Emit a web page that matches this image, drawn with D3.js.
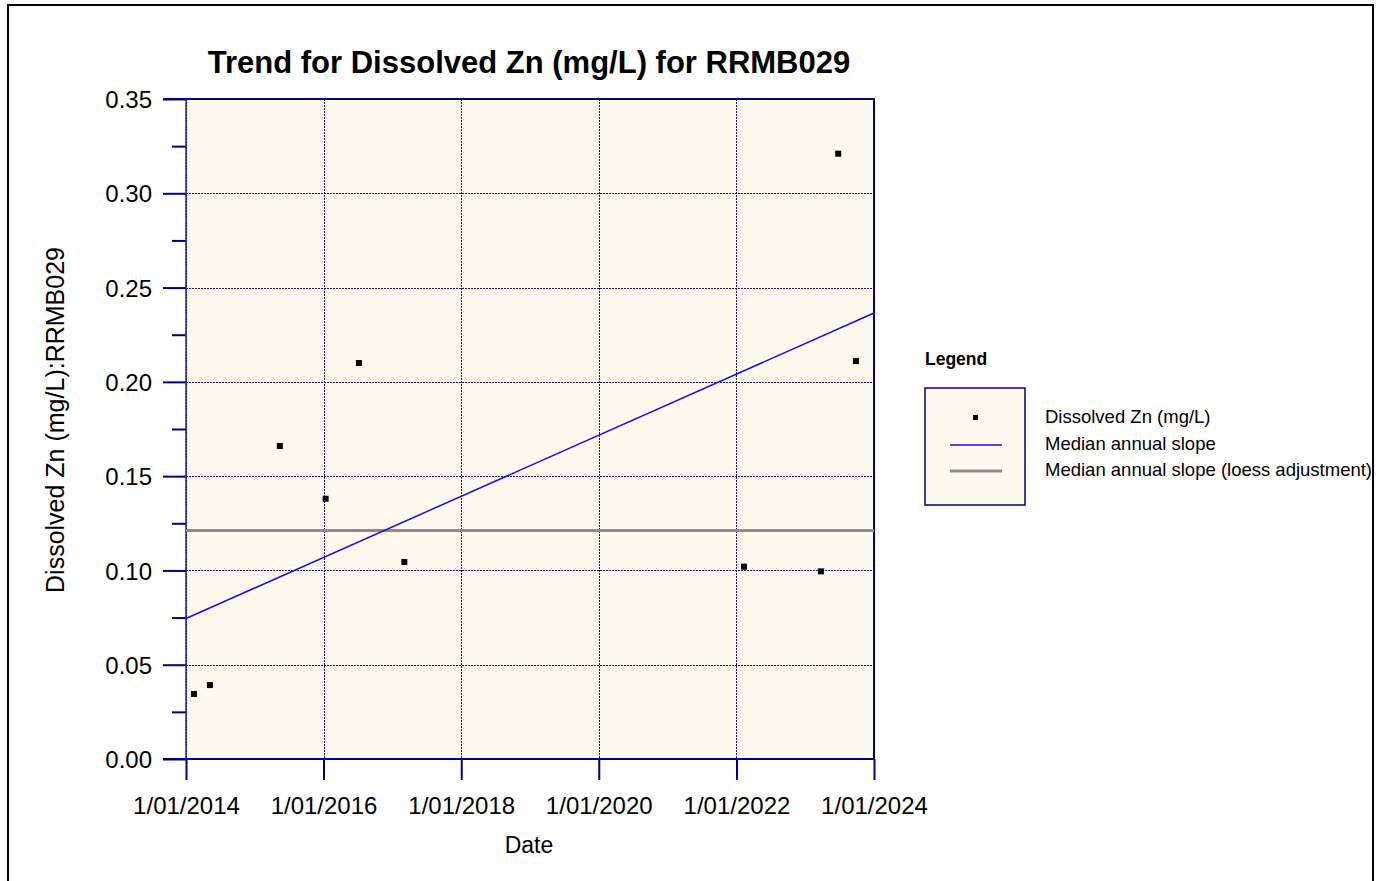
<!DOCTYPE html>
<html>
<head>
<meta charset="utf-8">
<script src="https://cdn.jsdelivr.net/npm/d3@7"></script>
<style>
  body { margin: 0; background: #fff; }
  svg { font-family: "Liberation Sans", Arial, sans-serif; }
</style>
</head>
<body>
<div class="chart"></div>
<script>
// data
var sampleDates = ["2014-02-12", "2014-05-08", "2015-05-14", "2016-01-12", "2016-07-07",
                   "2017-03-05", "2022-02-10", "2023-03-25", "2023-06-25", "2023-09-27"];
var zinc = [0.0345, 0.0392, 0.166, 0.138, 0.210, 0.1045, 0.102, 0.0995, 0.321, 0.211];

// median annual slope line (start / end of date range)
var slopeDates = ["2014-01-01", "2024-01-01"];
var slopeValues = [0.0745, 0.2365];
// loess adjusted slope
var loessValues = [0.1212, 0.1212];

var xTicks = ["2014-01-01", "2016-01-01", "2018-01-01", "2020-01-01", "2022-01-01", "2024-01-01"];
var yTicks = [0, 0.05, 0.10, 0.15, 0.20, 0.25, 0.30, 0.35];
var yMinor = [0.025, 0.075, 0.125, 0.175, 0.225, 0.275, 0.325];

var legendNames = ["Dissolved Zn (mg/L)", "Median annual slope", "Median annual slope (loess adjustment)"];

var width = 1381;
var height = 881;
var plotLeft = 186, plotTop = 99, plotRight = 874, plotBottom = 759;

var navy = "#000080";
var gridColor = "#1414a0";
var cream = "#FDF9EF";
var blue = "#1010F0";
var grey = "#8C8C8C";

var parse = d3.timeParse("%Y-%m-%d");
var fmt = d3.timeFormat("%-d/%m/%Y");

var svg = d3.select(".chart")
            .append("svg")
            .attr("width", width)
            .attr("height", height);

// outer frame
svg.append("rect")
   .attr("x", 8).attr("y", 5)
   .attr("width", 1365).attr("height", 900)
   .attr("fill", "#fff")
   .attr("stroke", "#000")
   .attr("stroke-width", 2);

const xScale = d3.scaleTime()
                 .domain([parse("2014-01-01"), parse("2024-01-01")])
                 .range([plotLeft, plotRight]);
const yScale = d3.scaleLinear()
                 .domain([0, 0.35])
                 .range([plotBottom, plotTop]);

// plot background
svg.append("rect")
   .attr("x", plotLeft).attr("y", plotTop)
   .attr("width", plotRight - plotLeft).attr("height", plotBottom - plotTop)
   .attr("fill", cream);

// grid (dotted)
svg.append("g")
   .selectAll("line")
   .data(yTicks.slice(1))
   .enter()
   .append("line")
   .attr("x1", plotLeft).attr("x2", plotRight)
   .attr("y1", d => Math.round(yScale(d)) + 0.5).attr("y2", d => Math.round(yScale(d)) + 0.5)
   .attr("stroke", gridColor)
   .attr("stroke-width", 1)
   .attr("stroke-dasharray", "2,1")
   .attr("shape-rendering", "crispEdges");
svg.append("g")
   .selectAll("line")
   .data(xTicks)
   .enter()
   .append("line")
   .attr("x1", d => Math.round(xScale(parse(d))) + 0.5).attr("x2", d => Math.round(xScale(parse(d))) + 0.5)
   .attr("y1", plotTop).attr("y2", plotBottom)
   .attr("stroke", gridColor)
   .attr("stroke-width", 1)
   .attr("stroke-dasharray", "2,1")
   .attr("shape-rendering", "crispEdges");

// frame of plot area
svg.append("line").attr("x1", plotLeft - 23).attr("x2", plotRight + 1).attr("y1", plotTop).attr("y2", plotTop)
   .attr("stroke", navy).attr("stroke-width", 2);
svg.append("line").attr("x1", plotRight).attr("x2", plotRight).attr("y1", plotTop).attr("y2", plotBottom)
   .attr("stroke", navy).attr("stroke-width", 2);

// axes
const xAxis = d3.axisBottom(xScale)
                .tickValues(xTicks.map(parse))
                .tickFormat(fmt)
                .tickSize(21)
                .tickPadding(17);
const yAxis = d3.axisLeft(yScale)
                .tickValues(yTicks)
                .tickFormat(d3.format(".2f"))
                .tickSize(23)
                .tickPadding(11);
const yAxisMinor = d3.axisLeft(yScale)
                     .tickValues(yMinor)
                     .tickFormat("")
                     .tickSize(14);

var gx = svg.append("g")
   .attr("id", "x-axis")
   .attr("transform", "translate(0," + plotBottom + ")")
   .call(xAxis);
var gy = svg.append("g")
   .attr("id", "y-axis")
   .attr("transform", "translate(" + plotLeft + ",0)")
   .call(yAxis);
var gym = svg.append("g")
   .attr("transform", "translate(" + plotLeft + ",0)")
   .call(yAxisMinor);

[gx, gy, gym].forEach(g => {
  g.selectAll(".tick line").attr("stroke", navy).attr("stroke-width", 2);
  g.selectAll(".tick text").attr("fill", "#000").style("font-size", "24px");
});
gy.select(".domain").remove();
gym.select(".domain").remove();
gx.select(".domain").remove();
gx.selectAll(".tick text").attr("dy", "0.71em");
gy.selectAll(".tick text").attr("dy", "0.36em");

// left axis line and bottom axis line
svg.append("line").attr("x1", plotLeft).attr("x2", plotLeft).attr("y1", plotTop).attr("y2", plotBottom)
   .attr("stroke", "#2020a0").attr("stroke-width", 1.5);
svg.append("line").attr("x1", plotLeft - 23).attr("x2", plotRight + 1).attr("y1", plotBottom).attr("y2", plotBottom)
   .attr("stroke", navy).attr("stroke-width", 2);

// trend lines
var line = d3.line()
             .x(d => xScale(d[0]))
             .y(d => yScale(d[1]));
svg.append("path")
   .datum(slopeDates.map((d, i) => [parse(d), loessValues[i]]))
   .attr("d", line)
   .attr("fill", "none")
   .attr("stroke", grey)
   .attr("stroke-width", 3);
svg.append("path")
   .datum(slopeDates.map((d, i) => [parse(d), slopeValues[i]]))
   .attr("d", line)
   .attr("fill", "none")
   .attr("stroke", blue)
   .attr("stroke-width", 1.5);

// points
svg.selectAll("rect.dot")
   .data(zinc)
   .enter()
   .append("rect")
   .attr("class", "dot")
   .attr("x", (d, i) => xScale(parse(sampleDates[i])) - 3)
   .attr("y", d => yScale(d) - 3)
   .attr("width", 6)
   .attr("height", 6)
   .attr("fill", "#000");

// titles
svg.append("text")
   .attr("x", 529).attr("y", 73)
   .attr("text-anchor", "middle")
   .style("font-size", "31px")
   .style("font-weight", "bold")
   .text("Trend for Dissolved Zn (mg/L) for RRMB029");

svg.append("text")
   .attr("x", 529).attr("y", 853)
   .attr("text-anchor", "middle")
   .style("font-size", "23px")
   .text("Date");

svg.append("g")
   .attr("transform", "translate(" + 64 + "," + 420 + ")")
   .append("text")
   .attr("text-anchor", "middle")
   .attr("transform", "rotate(-90)")
   .style("font-size", "25px")
   .text("Dissolved Zn (mg/L):RRMB029");

// legend
svg.append("text")
   .attr("x", 925).attr("y", 365)
   .style("font-size", "17.5px")
   .style("font-weight", "bold")
   .text("Legend");
svg.append("rect")
   .attr("x", 925).attr("y", 388)
   .attr("width", 100).attr("height", 117)
   .attr("fill", cream)
   .attr("stroke", navy)
   .attr("stroke-width", 1.5);
svg.append("rect")
   .attr("x", 973).attr("y", 415)
   .attr("width", 5).attr("height", 5)
   .attr("fill", "#000");
svg.append("line")
   .attr("x1", 950).attr("x2", 1002).attr("y1", 445).attr("y2", 445)
   .attr("stroke", blue).attr("stroke-width", 1.5);
svg.append("line")
   .attr("x1", 950).attr("x2", 1002).attr("y1", 471).attr("y2", 471)
   .attr("stroke", grey).attr("stroke-width", 3);
svg.selectAll("text.legend")
   .data(legendNames)
   .enter()
   .append("text")
   .attr("class", "legend")
   .attr("x", 1045)
   .attr("y", (d, i) => 423 + i * 26.5)
   .style("font-size", "18.5px")
   .text(d => d);
</script>
</body>
</html>
